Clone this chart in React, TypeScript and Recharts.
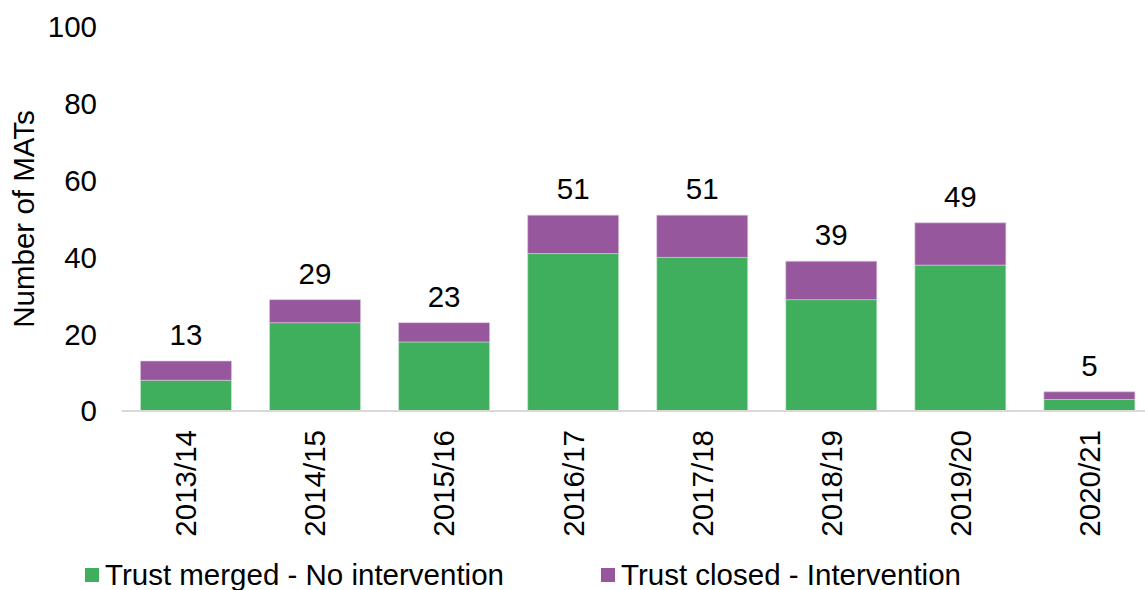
import React from "react";
import { BarChart, Bar, XAxis, YAxis, Legend, LabelList } from "recharts";

const categories = ["2013/14", "2014/15", "2015/16", "2016/17", "2017/18", "2018/19", "2019/20", "2020/21"];
const mergedNoIntervention = [8, 23, 18, 41, 40, 29, 38, 3];
const closedIntervention = [5, 6, 5, 10, 11, 10, 11, 2];
const yTicks = [0, 20, 40, 60, 80, 100];

const seriesNames = ["Trust merged - No intervention", "Trust closed - Intervention"];
const GREEN = "#3FAE5D";
const PURPLE = "#96579C";
const FONT = "'Liberation Sans', Arial, sans-serif";
const FS = 29.5;

const data = categories.map((c, i) => ({
  category: c,
  merged: mergedNoIntervention[i],
  closed: closedIntervention[i],
  total: mergedNoIntervention[i] + closedIntervention[i],
}));

const XTick = (props: any) => {
  const { x, y, payload } = props;
  return (
    <text
      transform={`translate(${x},${y}) rotate(-90)`}
      textAnchor="end"
      dy="0.35em"
      fontSize={FS}
      fontFamily={FONT}
      fill="#000"
    >
      {payload.value}
    </text>
  );
};

const YLabel = (props: any) => {
  const vb = props.viewBox || {};
  const cx = (vb.x || 0) + 23;
  const cy = (vb.y || 0) + (vb.height || 0) / 2;
  return (
    <text
      transform={`translate(${cx},${cy}) rotate(-90)`}
      textAnchor="middle"
      dominantBaseline="central"
      fontSize={FS}
      fontFamily={FONT}
      fill="#000"
    >
      Number of MATs
    </text>
  );
};

const LegendContent = () => (
  <div style={{ position: "relative", height: 30, width: 1145, fontFamily: FONT, fontSize: FS, color: "#000" }}>
    {[GREEN, PURPLE].map((col, i) => (
      <div
        key={i}
        style={{
          position: "absolute",
          left: i === 0 ? 85 : 601,
          top: 0,
          height: 30,
          display: "flex",
          alignItems: "center",
          whiteSpace: "nowrap",
        }}
      >
        <span style={{ display: "inline-block", width: 14, height: 14, background: col, marginRight: 6 }} />
        <span style={{ lineHeight: "30px" }}>{seriesNames[i]}</span>
      </div>
    ))}
  </div>
);

export default function App() {
  return (
    <div style={{ position: "fixed", left: 0, top: 0, width: 1145, height: 590, overflow: "hidden", background: "#fff" }}>
      <BarChart
        width={1160}
        height={590}
        data={data}
        margin={{ top: 27, right: 6, left: 0, bottom: 0 }}
        barCategoryGap="14.7%"
      >
        <XAxis
          dataKey="category"
          height={149}
          tickLine={false}
          tickSize={0}
          tickMargin={19}
          axisLine={{ stroke: "#D9D9D9", strokeWidth: 2 }}
          tick={<XTick />}
          interval={0}
        />
        <YAxis
          width={121.5}
          domain={[0, 100]}
          ticks={yTicks}
          axisLine={false}
          tickLine={false}
          tickSize={0}
          tickMargin={24.5}
          tick={{ fontSize: FS, fontFamily: FONT, fill: "#000" }}
          label={<YLabel />}
        />
        <Legend verticalAlign="bottom" align="left" wrapperStyle={{ left: 0, bottom: 0 }} content={<LegendContent />} />
        <Bar dataKey="merged" name={seriesNames[0]} stackId="a" fill={GREEN} stroke="#cfe9d6" strokeWidth={0.6} isAnimationActive={false} />
        <Bar dataKey="closed" name={seriesNames[1]} stackId="a" fill={PURPLE} stroke="#dcc6de" strokeWidth={0.6} isAnimationActive={false}>
          <LabelList dataKey="total" position="top" offset={16} fontSize={FS} fontFamily={FONT} fill="#000" />
        </Bar>
      </BarChart>
    </div>
  );
}
